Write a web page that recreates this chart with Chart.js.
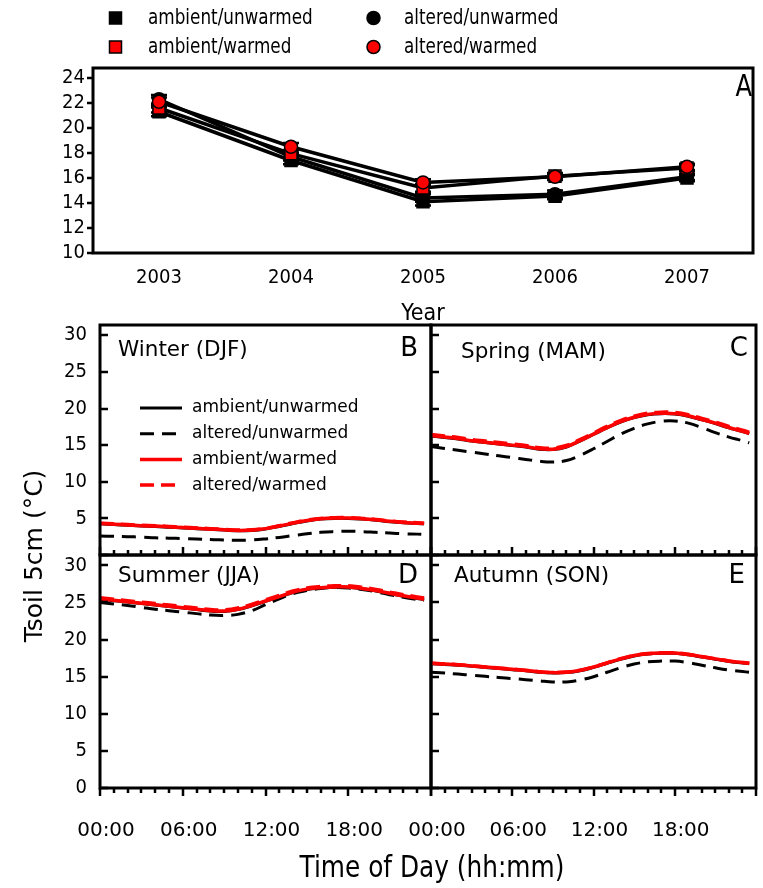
<!DOCTYPE html>
<html><head><meta charset="utf-8">
<script src="https://cdn.jsdelivr.net/npm/chart.js@4.4.1/dist/chart.umd.min.js"></script>
<style>
html,body{margin:0;padding:0;background:#fff;}
#wrap{position:relative;width:763px;height:888px;overflow:hidden;background:#fff;}
#wrap canvas{position:absolute;left:0;top:0;}
</style></head><body>
<div id="wrap">
<canvas id="cA" width="763" height="888"></canvas>
<canvas id="cB" width="763" height="888"></canvas>
<canvas id="cC" width="763" height="888"></canvas>
<canvas id="cD" width="763" height="888"></canvas>
<canvas id="cE" width="763" height="888"></canvas>
</div>
<script>
// ---------------- DATA ----------------
const years = ['2003', '2004', '2005', '2006', '2007'];
const seriesLabels = ['ambient/unwarmed', 'altered/unwarmed', 'ambient/warmed', 'altered/warmed'];

// Panel A: annual mean Tsoil 5cm
const annAmbUnw  = [21.3, 17.4, 14.1, 14.55, 16.0];
const annAltUnw  = [22.3, 17.7, 14.4, 14.7, 16.1];
const annAmbWarm = [21.6, 17.95, 15.2, 16.15, 16.8];
const annAltWarm = [22.1, 18.5, 15.65, 16.1, 16.9];
const seAmbUnw   = [0.35, 0.3, 0.3, 0.25, 0.25];
const seAltUnw   = [0.35, 0.3, 0.3, 0.3, 0.25];
const seAmbWarm  = [0.35, 0.3, 0.3, 0.25, 0.25];
const seAltWarm  = [0.35, 0.3, 0.25, 0.25, 0.25];

// Panels B-E: diurnal course (hour of day)
const hours = [0,1,2,3,4,5,6,7,8,9,10,11,12,13,14,15,16,17,18,19,20,21,22,23,23.5];
const hourTickValues = [0, 6, 12, 18];
const hourTickLabels = ['00:00', '06:00', '12:00', '18:00'];

const winAmbUnw  = [4.25,4.15,4.05,3.95,3.9,3.8,3.7,3.6,3.5,3.4,3.3,3.35,3.55,3.9,4.3,4.65,4.9,5.0,5.0,4.9,4.75,4.55,4.4,4.3,4.25];
const winAltUnw  = [2.6,2.55,2.5,2.45,2.35,2.3,2.25,2.2,2.1,2.05,2.0,2.05,2.2,2.4,2.65,2.9,3.1,3.2,3.25,3.2,3.1,3.0,2.9,2.85,2.8];
const winAmbWarm = [4.3,4.2,4.1,4.0,3.95,3.85,3.75,3.65,3.55,3.45,3.35,3.4,3.6,3.95,4.35,4.7,4.95,5.05,5.05,4.95,4.8,4.6,4.45,4.35,4.3];
const winAltWarm = [4.35,4.25,4.15,4.05,4.0,3.9,3.8,3.7,3.6,3.5,3.4,3.45,3.65,4.0,4.4,4.75,5.0,5.1,5.1,5.0,4.85,4.65,4.5,4.4,4.35];

const sprAmbUnw  = [16.25,16.05,15.85,15.55,15.35,15.15,14.95,14.75,14.45,14.4,14.75,15.55,16.45,17.35,18.15,18.75,19.15,19.3,19.25,18.95,18.45,17.95,17.35,16.85,16.55];
const sprAltUnw  = [14.8,14.55,14.3,14.05,13.8,13.55,13.3,13.05,12.8,12.7,12.9,13.6,14.5,15.5,16.5,17.3,17.9,18.25,18.3,18.0,17.4,16.7,16.1,15.6,15.3];
const sprAmbWarm = [16.3,16.1,15.9,15.6,15.4,15.2,15.0,14.8,14.5,14.45,14.8,15.6,16.5,17.4,18.2,18.8,19.2,19.35,19.3,19.0,18.5,18.0,17.4,16.9,16.6];
const sprAltWarm = [16.45,16.25,16.05,15.75,15.55,15.35,15.15,14.95,14.65,14.6,14.95,15.75,16.65,17.55,18.35,18.95,19.35,19.5,19.45,19.15,18.65,18.15,17.55,17.05,16.75];

const sumAmbUnw  = [25.45,25.25,25.05,24.85,24.65,24.45,24.25,24.05,23.85,23.8,24.05,24.55,25.15,25.75,26.35,26.75,26.95,27.05,27.05,26.85,26.55,26.2,25.85,25.55,25.4];
const sumAltUnw  = [25.0,24.8,24.6,24.35,24.1,23.9,23.7,23.5,23.3,23.25,23.4,23.9,24.7,25.5,26.2,26.6,26.9,27.0,26.95,26.75,26.45,26.05,25.7,25.4,25.25];
const sumAmbWarm = [25.5,25.3,25.1,24.9,24.7,24.5,24.3,24.1,23.9,23.85,24.1,24.6,25.2,25.8,26.4,26.8,27.0,27.1,27.1,26.9,26.6,26.25,25.9,25.6,25.45];
const sumAltWarm = [25.65,25.45,25.25,25.05,24.85,24.65,24.45,24.25,24.05,24.0,24.25,24.75,25.35,25.95,26.55,26.95,27.15,27.25,27.25,27.05,26.75,26.4,26.05,25.75,25.6];

const autAmbUnw  = [16.75,16.65,16.55,16.4,16.25,16.1,15.95,15.8,15.6,15.5,15.55,15.8,16.25,16.8,17.35,17.8,18.05,18.15,18.15,17.95,17.65,17.35,17.05,16.85,16.75];
const autAltUnw  = [15.6,15.5,15.35,15.2,15.05,14.9,14.75,14.6,14.45,14.3,14.3,14.55,15.0,15.6,16.2,16.7,17.0,17.1,17.1,16.9,16.55,16.2,15.9,15.7,15.6];
const autAmbWarm = [16.8,16.7,16.6,16.45,16.3,16.15,16.0,15.85,15.65,15.55,15.6,15.85,16.3,16.85,17.4,17.85,18.1,18.2,18.2,18.0,17.7,17.4,17.1,16.9,16.8];
const autAltWarm = [16.82,16.72,16.62,16.47,16.32,16.17,16.02,15.87,15.67,15.57,15.62,15.87,16.32,16.87,17.42,17.87,18.12,18.22,18.22,18.02,17.72,17.42,17.12,16.92,16.82];

// ---------------- STYLE ----------------
const W = 763, H = 888;
const NARROW = "'DejaVu Sans Condensed', 'Liberation Sans Narrow', sans-serif";
const WIDE = "'DejaVu Sans', Verdana, sans-serif";
const RED = 'rgb(255,0,0)';
const BLACK = '#000';

// ---------------- PLUGINS ----------------
const frameTicks = {
  id: 'frameTicks',
  afterDraw(chart, args, o) {
    const {ctx, chartArea: a, scales} = chart;
    ctx.save();
    ctx.strokeStyle = BLACK;
    ctx.lineCap = 'butt';
    ctx.lineWidth = o.tickWidth || 2;
    ctx.beginPath();
    if (o.y) {
      const s = scales.y;
      const d = o.y.dir === 'in' ? 1 : -1;
      s.ticks.forEach(t => {
        const py = Math.round(s.getPixelForValue(t.value));
        ctx.moveTo(a.left, py); ctx.lineTo(a.left + d * o.y.len, py);
      });
    }
    if (o.x) {
      const s = scales.x;
      const d = o.x.dir === 'in' ? -1 : 1;
      s.ticks.forEach(t => {
        const px = Math.round(s.getPixelForValue(t.value));
        const len = (t.value % 6 === 0) ? o.x.major : o.x.minor;
        ctx.moveTo(px, a.bottom); ctx.lineTo(px, a.bottom + d * len);
      });
    }
    ctx.stroke();
    ctx.lineWidth = o.borderWidth || 3;
    ctx.strokeRect(a.left, a.top, a.right - a.left, a.bottom - a.top);
    ctx.restore();
  }
};

const textLabels = {
  id: 'textLabels',
  afterDraw(chart, args, o) {
    const ctx = chart.ctx;
    (o.items || []).forEach(it => {
      ctx.save();
      ctx.fillStyle = BLACK;
      ctx.font = it.font;
      ctx.textAlign = it.align || 'left';
      ctx.textBaseline = 'middle';
      ctx.translate(it.x, it.y);
      if (it.rot) ctx.rotate(it.rot);
      if (it.sx) ctx.scale(it.sx, 1);
      ctx.fillText(it.t, 0, 0);
      ctx.restore();
    });
  }
};

const errorBars = {
  id: 'errorBars',
  beforeDatasetsDraw(chart, args, o) {
    const {ctx, scales: {y}} = chart;
    ctx.save();
    ctx.strokeStyle = BLACK;
    ctx.lineWidth = 2.5;
    chart.data.datasets.forEach((ds, di) => {
      const meta = chart.getDatasetMeta(di);
      ds.data.forEach((v, i) => {
        const px = meta.data[i].x;
        const e = ds.errors[i];
        const y1 = y.getPixelForValue(v - e), y2 = y.getPixelForValue(v + e);
        ctx.beginPath();
        ctx.moveTo(px, y1); ctx.lineTo(px, y2);
        ctx.moveTo(px - 8, y1); ctx.lineTo(px + 8, y1);
        ctx.moveTo(px - 8, y2); ctx.lineTo(px + 8, y2);
        ctx.stroke();
      });
    });
    ctx.restore();
  }
};

const topLegend = {
  id: 'topLegend',
  afterDraw(chart, args, o) {
    const ctx = chart.ctx;
    const byLabel = {};
    chart.data.datasets.forEach(d => byLabel[d.label] = d);
    o.items.forEach(it => {
      const ds = byLabel[it.label];
      ctx.save();
      ctx.fillStyle = ds.pointBackgroundColor;
      ctx.strokeStyle = BLACK;
      ctx.lineWidth = 1.5;
      ctx.beginPath();
      if (ds.pointStyle === 'rect') ctx.rect(it.mx - 6, it.y - 6, 12, 12);
      else ctx.arc(it.mx, it.y, 6.5, 0, Math.PI * 2);
      ctx.fill(); ctx.stroke();
      ctx.fillStyle = BLACK;
      ctx.font = o.font;
      ctx.textAlign = 'left';
      ctx.textBaseline = 'middle';
      ctx.translate(it.tx, it.y + 1);
      ctx.scale(o.sx, 1);
      ctx.fillText(it.label, 0, 0);
      ctx.restore();
    });
  }
};

const lineLegend = {
  id: 'lineLegend',
  afterDraw(chart, args, o) {
    if (!o.show) return;
    const ctx = chart.ctx;
    const byLabel = {};
    chart.data.datasets.forEach(d => byLabel[d.label] = d);
    seriesLabels.forEach((lab, i) => {
      const ds = byLabel[lab];
      const y = o.y0 + i * o.dy;
      ctx.save();
      ctx.strokeStyle = ds.borderColor;
      ctx.lineWidth = ds.borderWidth;
      ctx.setLineDash(ds.borderDash || []);
      ctx.beginPath();
      ctx.moveTo(o.x0, y); ctx.lineTo(o.x1, y);
      ctx.stroke();
      ctx.setLineDash([]);
      ctx.fillStyle = BLACK;
      ctx.font = o.font;
      ctx.textAlign = 'left';
      ctx.textBaseline = 'middle';
      ctx.fillText(lab, o.tx, y);
      ctx.restore();
    });
  }
};

function zeroPad(s) { s.paddingLeft = 0; s.paddingRight = 0; s.paddingTop = 0; s.paddingBottom = 0; }

// ---------------- PANEL A ----------------
function annDataset(label, vals, se, style, fill, order) {
  return {
    label, data: vals, errors: se,
    borderColor: BLACK, borderWidth: 3.5, tension: 0,
    pointStyle: style, pointRadius: style === 'rect' ? 8.5 : 6.5,
    pointBackgroundColor: fill, pointBorderColor: BLACK, pointBorderWidth: 1.5,
    order
  };
}

const AX_H = 75;
new Chart(document.getElementById('cA'), {
  type: 'line',
  data: {
    labels: years,
    datasets: [
      annDataset('ambient/unwarmed', annAmbUnw, seAmbUnw, 'rect', BLACK, 4),
      annDataset('altered/unwarmed', annAltUnw, seAltUnw, 'circle', BLACK, 3),
      annDataset('ambient/warmed', annAmbWarm, seAmbWarm, 'rect', RED, 2),
      annDataset('altered/warmed', annAltWarm, seAltWarm, 'circle', RED, 1)
    ]
  },
  options: {
    responsive: false, animation: false, devicePixelRatio: 1,
    layout: { padding: { left: 0, top: 68, right: W - 757, bottom: H - 253 - AX_H } },
    plugins: {
      legend: { display: false }, tooltip: { enabled: false },
      frameTicks: { y: { dir: 'out', len: 6 }, borderWidth: 3, tickWidth: 2.5 },
      topLegend: {
        font: '21px ' + NARROW, sx: 0.89,
        items: [
          { label: 'ambient/unwarmed', mx: 115.5, tx: 148, y: 18 },
          { label: 'altered/unwarmed', mx: 373.5, tx: 404, y: 18 },
          { label: 'ambient/warmed', mx: 115.5, tx: 148, y: 47 },
          { label: 'altered/warmed', mx: 373.5, tx: 404, y: 47 }
        ]
      },
      textLabels: { items: [ { t: 'A', x: 752, y: 88, align: 'right', font: '30px ' + NARROW, sx: 0.9 } ] }
    },
    scales: {
      x: {
        type: 'category', offset: true,
        grid: { display: false, drawTicks: false }, border: { display: false },
        ticks: { color: BLACK, font: { family: NARROW, size: 20 }, padding: 13, maxRotation: 0, autoSkip: false },
        title: { display: true, text: 'Year', color: BLACK, font: { family: NARROW, size: 23 }, padding: { top: 0, bottom: 0 } },
        afterFit(s) { s.height = AX_H; zeroPad(s); }
      },
      y: {
        min: 10, max: 24.8,
        grid: { display: false, drawTicks: false }, border: { display: false },
        ticks: { stepSize: 2, includeBounds: false, autoSkip: false, color: BLACK, font: { family: NARROW, size: 20 }, padding: 8 },
        afterFit(s) { s.width = 93; zeroPad(s); }
      }
    }
  },
  plugins: [errorBars, frameTicks, topLegend, textLabels]
});

// ---------------- PANELS B-E ----------------
function toXY(vals) { return hours.map((h, i) => ({ x: h, y: vals[i] })); }

function seasonChart(id, area, series, cfg) {
  const yW = cfg.showYLabels ? 100 : 40;
  const xH = cfg.showXLabels ? 60 : 8;
  return new Chart(document.getElementById(id), {
    type: 'line',
    data: {
      datasets: [
        { label: 'ambient/unwarmed', data: toXY(series[0]), borderColor: BLACK, borderWidth: 3, borderDash: [], order: 4 },
        { label: 'altered/unwarmed', data: toXY(series[1]), borderColor: BLACK, borderWidth: 3, borderDash: [14, 8], order: 3 },
        { label: 'ambient/warmed', data: toXY(series[2]), borderColor: RED, borderWidth: 3.5, borderDash: [], order: 2 },
        { label: 'altered/warmed', data: toXY(series[3]), borderColor: RED, borderWidth: 3.5, borderDash: [14, 7], order: 1 }
      ]
    },
    options: {
      responsive: false, animation: false, devicePixelRatio: 1,
      elements: { point: { radius: 0 }, line: { tension: 0.4, fill: false } },
      layout: { padding: { left: area.left - yW, top: area.top, right: W - area.right, bottom: H - area.bottom - xH } },
      plugins: {
        legend: { display: false }, tooltip: { enabled: false },
        frameTicks: { y: { dir: 'in', len: 8 }, x: { dir: cfg.xDir, major: 8, minor: 5 }, borderWidth: 3, tickWidth: 2.5 },
        textLabels: { items: cfg.texts },
        lineLegend: cfg.legend || { show: false }
      },
      scales: {
        x: {
          type: 'linear', min: 0, max: 24,
          grid: { display: false, drawTicks: false }, border: { display: false },
          ticks: {
            display: !!cfg.showXLabels, stepSize: 1, autoSkip: false, maxTicksLimit: 100, maxRotation: 0,
            color: BLACK, font: { family: WIDE, size: 20 }, padding: 31, labelOffset: 6,
            callback: v => { const k = hourTickValues.indexOf(v); return k >= 0 ? hourTickLabels[k] : ''; }
          },
          afterFit(s) { s.height = xH; zeroPad(s); }
        },
        y: {
          min: 0, max: 31.4,
          grid: { display: false, drawTicks: false }, border: { display: false },
          ticks: {
            display: !!cfg.showYLabels, stepSize: 5, includeBounds: false, autoSkip: false,
            color: BLACK, font: { family: NARROW, size: 20 }, padding: 13,
            callback: v => (cfg.hideZero && v === 0) ? '' : String(v)
          },
          afterFit(s) { s.width = yW; zeroPad(s); }
        }
      }
    },
    plugins: [frameTicks, textLabels, lineLegend]
  });
}

const L = 100, M = 431, R = 756, T = 325, MID = 555, BOT = 788;
const SEASON_FONT = '21.5px ' + WIDE;
const LETTER_FONT = '26px ' + WIDE;

seasonChart('cB', { left: L, top: T, right: M, bottom: MID },
  [winAmbUnw, winAltUnw, winAmbWarm, winAltWarm],
  { showYLabels: true, hideZero: true, showXLabels: false, xDir: 'in',
    texts: [
      { t: 'Winter (DJF)', x: 118, y: 350, font: SEASON_FONT },
      { t: 'B', x: 418, y: 349, align: 'right', font: LETTER_FONT },
      { t: 'Tsoil 5cm (°C)', x: 35, y: 556, align: 'center', rot: -Math.PI / 2, font: '25px ' + WIDE }
    ],
    legend: { show: true, x0: 140, x1: 182, tx: 192, y0: 408, dy: 25.7, font: '17px ' + WIDE } });

seasonChart('cC', { left: M, top: T, right: R, bottom: MID },
  [sprAmbUnw, sprAltUnw, sprAmbWarm, sprAltWarm],
  { showYLabels: false, showXLabels: false, xDir: 'in',
    texts: [
      { t: 'Spring (MAM)', x: 461, y: 352, font: SEASON_FONT },
      { t: 'C', x: 748, y: 349, align: 'right', font: LETTER_FONT }
    ] });

seasonChart('cD', { left: L, top: MID, right: M, bottom: BOT },
  [sumAmbUnw, sumAltUnw, sumAmbWarm, sumAltWarm],
  { showYLabels: true, hideZero: false, showXLabels: true, xDir: 'out',
    texts: [
      { t: 'Summer (JJA)', x: 118, y: 576, font: SEASON_FONT },
      { t: 'D', x: 418, y: 576, align: 'right', font: LETTER_FONT },
      { t: 'Time of Day (hh:mm)', x: 432, y: 869, align: 'center', font: '31px ' + NARROW, sx: 0.89 }
    ] });

seasonChart('cE', { left: M, top: MID, right: R, bottom: BOT },
  [autAmbUnw, autAltUnw, autAmbWarm, autAltWarm],
  { showYLabels: false, showXLabels: true, xDir: 'out',
    texts: [
      { t: 'Autumn (SON)', x: 454, y: 576, font: SEASON_FONT },
      { t: 'E', x: 745, y: 576, align: 'right', font: LETTER_FONT }
    ] });
</script>
</body></html>
